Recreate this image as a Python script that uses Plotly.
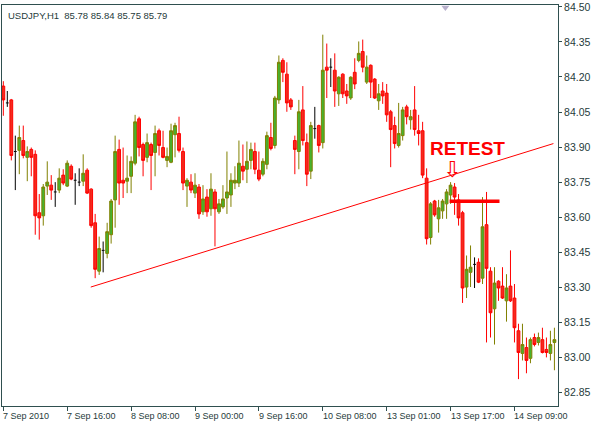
import plotly.graph_objects as go

# USDJPY H1, 7-14 Sep 2010, one value per bar, bar number on the x axis
opens = [84.161, 84.089, 84.102, 83.881, 83.886, 83.928, 83.856, 83.890, 83.869, 83.619,
         83.606, 83.733, 83.737, 83.708, 83.716, 83.780, 83.733, 83.818, 83.758, 83.750,
         83.754, 83.801, 83.720, 83.576, 83.369, 83.458, 83.445, 83.525, 83.674, 83.890,
         83.758, 83.754, 83.775, 83.831, 84.021, 83.911, 83.856, 83.911, 83.877, 83.970,
         83.898, 83.843, 83.835, 83.953, 83.958, 83.881, 83.733, 83.750, 83.703, 83.729,
         83.623, 83.686, 83.636, 83.708, 83.623, 83.644, 83.682, 83.695, 83.746, 83.746,
         83.818, 83.805, 83.843, 83.881, 83.801, 83.784, 83.826, 83.941, 83.907, 84.102,
         84.271, 84.212, 84.102, 83.928, 83.881, 84.059, 83.919, 83.797, 83.979, 83.992,
         83.919, 84.242, 84.242, 84.229, 84.128, 84.212, 84.140, 84.110, 84.220, 84.271,
         84.309, 84.178, 84.250, 84.191, 84.098, 84.140, 84.131, 84.051, 83.992, 83.907,
         83.949, 84.072, 84.017, 84.059, 83.970, 83.970, 83.767, 83.513, 83.669, 83.593,
         83.627, 83.657, 83.695, 83.729, 83.674, 83.619, 83.301, 83.364, 83.398, 83.407,
         83.339, 83.568, 83.369, 83.208, 83.326, 83.305, 83.242, 83.305, 83.254, 83.114,
         83.017, 83.042, 82.996, 83.085, 83.064, 83.076, 83.034, 83.017, 83.064]
highs = [84.182, 84.140, 84.106, 83.949, 83.992, 83.992, 83.903, 83.898, 83.886, 83.699,
         83.742, 83.839, 83.780, 83.750, 83.809, 83.805, 83.843, 83.826, 83.788, 83.809,
         83.869, 83.809, 83.724, 83.614, 83.517, 83.496, 83.576, 83.678, 83.949, 83.932,
         83.898, 83.864, 83.860, 84.038, 84.030, 83.919, 83.958, 83.919, 83.992, 83.979,
         83.970, 83.898, 84.000, 84.004, 84.030, 83.898, 83.767, 83.784, 83.788, 83.742,
         83.737, 83.720, 83.788, 83.720, 83.678, 83.737, 83.881, 83.788, 83.818, 83.928,
         83.911, 83.924, 83.919, 83.919, 83.881, 83.852, 83.966, 84.004, 84.119, 84.292,
         84.280, 84.263, 84.110, 83.949, 84.102, 84.161, 83.958, 84.008, 84.072, 83.996,
         84.381, 84.343, 84.280, 84.301, 84.203, 84.216, 84.170, 84.203, 84.280, 84.352,
         84.360, 84.292, 84.254, 84.195, 84.170, 84.178, 84.170, 84.059, 84.030, 84.089,
         84.072, 84.081, 84.059, 84.161, 84.038, 84.008, 83.809, 83.665, 83.674, 83.674,
         83.678, 83.720, 83.750, 83.746, 83.699, 83.627, 83.436, 83.479, 83.428, 83.424,
         83.686, 83.708, 83.386, 83.386, 83.330, 83.386, 83.356, 83.458, 83.314, 83.144,
         83.144, 83.085, 83.085, 83.102, 83.106, 83.127, 83.085, 83.114, 83.127]
lows = [84.034, 84.072, 83.843, 83.716, 83.784, 83.852, 83.754, 83.775, 83.525, 83.504,
        83.564, 83.695, 83.674, 83.644, 83.703, 83.737, 83.729, 83.758, 83.653, 83.733,
        83.733, 83.699, 83.555, 83.339, 83.353, 83.364, 83.424, 83.487, 83.555, 83.653,
        83.682, 83.703, 83.703, 83.822, 83.860, 83.775, 83.835, 83.716, 83.775, 83.864,
        83.852, 83.814, 83.831, 83.856, 83.877, 83.716, 83.644, 83.703, 83.682, 83.593,
        83.610, 83.602, 83.606, 83.475, 83.614, 83.636, 83.614, 83.644, 83.720, 83.729,
        83.758, 83.746, 83.805, 83.784, 83.754, 83.775, 83.805, 83.886, 83.894, 84.085,
        84.178, 84.051, 84.059, 83.784, 83.805, 83.907, 83.733, 83.763, 83.936, 83.877,
        83.894, 84.110, 84.157, 84.072, 84.076, 84.110, 84.085, 84.102, 84.148, 84.263,
        84.220, 84.170, 84.110, 84.106, 84.059, 84.085, 84.008, 83.814, 83.894, 83.898,
        83.928, 83.997, 83.975, 83.949, 83.907, 83.767, 83.483, 83.483, 83.602, 83.534,
        83.593, 83.593, 83.657, 83.610, 83.564, 83.233, 83.254, 83.301, 83.297, 83.318,
        83.314, 83.064, 83.085, 83.055, 83.242, 83.250, 83.153, 83.237, 83.064, 82.907,
        82.987, 82.932, 82.975, 83.047, 83.051, 83.017, 83.000, 82.987, 82.945]
closes = [84.102, 84.089, 83.864, 83.881, 83.941, 83.864, 83.881, 83.856, 83.606, 83.597,
          83.729, 83.750, 83.716, 83.708, 83.767, 83.746, 83.831, 83.763, 83.758, 83.750,
          83.788, 83.703, 83.564, 83.377, 83.466, 83.458, 83.538, 83.669, 83.881, 83.746,
          83.746, 83.767, 83.839, 84.008, 83.898, 83.843, 83.919, 83.864, 83.958, 83.907,
          83.856, 83.860, 83.970, 83.992, 83.886, 83.746, 83.758, 83.716, 83.737, 83.614,
          83.678, 83.623, 83.720, 83.636, 83.657, 83.678, 83.708, 83.758, 83.758, 83.831,
          83.797, 83.839, 83.890, 83.805, 83.763, 83.839, 83.949, 83.894, 84.110, 84.263,
          84.220, 84.089, 84.072, 83.890, 84.051, 83.928, 83.784, 83.992, 83.979, 83.907,
          84.229, 84.229, 84.242, 84.140, 84.199, 84.128, 84.119, 84.199, 84.170, 84.301,
          84.242, 84.242, 84.178, 84.110, 84.128, 84.119, 84.038, 83.975, 83.915, 83.958,
          84.059, 84.030, 84.030, 83.975, 83.958, 83.780, 83.508, 83.657, 83.610, 83.640,
          83.669, 83.708, 83.737, 83.686, 83.597, 83.297, 83.377, 83.386, 83.398, 83.322,
          83.559, 83.381, 83.191, 83.318, 83.297, 83.254, 83.297, 83.242, 83.127, 83.021,
          83.055, 82.987, 83.076, 83.055, 83.085, 83.021, 83.021, 83.055, 83.076]

time_labels = ['7 Sep 2010', '7 Sep 16:00', '8 Sep 08:00', '9 Sep 00:00', '9 Sep 16:00',
               '10 Sep 08:00', '13 Sep 01:00', '13 Sep 17:00', '14 Sep 09:00']
label_bars = [0, 16, 32, 48, 64, 80, 96, 112, 128]
price_ticks = [82.85, 83.00, 83.15, 83.30, 83.45, 83.60, 83.75, 83.90, 84.05, 84.20, 84.35, 84.50]

# objects drawn on the chart
trend_bars = [21.9, 137.75]
trend_prices = [83.301, 83.915]
level_bars = [111.75, 124.25]
level_prices = [83.668, 83.668]
retest_bar, retest_price = 116.3, 83.892
arrow_bar, arrow_price = 112.4, 83.803
mark_bar, mark_price = 110.7, 84.497

bars = list(range(len(opens)))
doji = [o == c for o, c in zip(opens, closes)]

def pick(vals, keep):
    return [v for v, k in zip(vals, doji) if k == keep]

axis_col = '#2f4f4f'
text_col = '#1f3b3b'

fig = go.Figure()

# candles
fig.add_trace(go.Candlestick(
    x=pick(bars, False), open=pick(opens, False), high=pick(highs, False),
    low=pick(lows, False), close=pick(closes, False),
    increasing=dict(line=dict(color='#808000', width=1), fillcolor='#46b22e'),
    decreasing=dict(line=dict(color='#ff0000', width=1), fillcolor='#f22c1e'),
    whiskerwidth=0, hoverinfo='skip', showlegend=False,
))

# doji bars are black crosses
fig.add_trace(go.Ohlc(
    x=pick(bars, True), open=pick(opens, True), high=pick(highs, True),
    low=pick(lows, True), close=pick(closes, True),
    increasing=dict(line=dict(color='black', width=1)),
    decreasing=dict(line=dict(color='black', width=1)),
    tickwidth=0.35, hoverinfo='skip', showlegend=False,
))

# trend line and retest level
fig.add_trace(go.Scatter(x=trend_bars, y=trend_prices, mode='lines',
                         line=dict(color='#ff0000', width=1), hoverinfo='skip', showlegend=False))
fig.add_trace(go.Scatter(x=level_bars, y=level_prices, mode='lines',
                         line=dict(color='#ff0000', width=3.5), hoverinfo='skip', showlegend=False))
fig.add_trace(go.Scatter(x=[mark_bar], y=[mark_price], mode='markers', cliponaxis=False,
                         marker=dict(symbol='triangle-down', size=7, color='#b8b0cc'),
                         hoverinfo='skip', showlegend=False))

annotations = [
    dict(x=0, y=1, xref='paper', yref='paper', xanchor='left', yanchor='top',
         xshift=4, yshift=-3, showarrow=False,
         text='USDJPY,H1\u00a0 85.78 85.84 85.75 85.79',
         font=dict(family='Liberation Sans', size=9.5, color=text_col)),
    dict(x=retest_bar, y=retest_price, xref='x', yref='y', showarrow=False,
         text='<b>RETEST</b>', font=dict(family='Liberation Sans', size=19, color='#ff0000')),
    dict(x=arrow_bar, y=arrow_price, xref='x', yref='y', showarrow=False,
         text='\u21e9', font=dict(family='DejaVu Sans', size=22, color='#ff0000')),
]
for b, lab in zip(label_bars, time_labels):
    annotations.append(dict(x=b, y=0, xref='x', yref='paper', xanchor='left', yanchor='top',
                            xshift=-2, yshift=-3, showarrow=False, text=lab,
                            font=dict(family='Liberation Sans', size=9, color=text_col)))

fig.update_layout(
    width=613,
    height=424,
    margin=dict(l=1, r=55, t=1, b=18),
    plot_bgcolor='white',
    paper_bgcolor='white',
    showlegend=False,
    boxgap=0.3,
    boxgroupgap=0,
    annotations=annotations,
    xaxis=dict(
        range=[-0.33, 138.9],
        rangeslider=dict(visible=False),
        showgrid=False, zeroline=False,
        showline=True, mirror=True, linecolor=axis_col, linewidth=1,
        ticks='outside', ticklen=4, tickcolor=axis_col,
        tickvals=label_bars, showticklabels=False,
    ),
    yaxis=dict(
        side='right',
        range=[82.792, 84.508],
        showgrid=False, zeroline=False,
        showline=True, mirror=True, linecolor=axis_col, linewidth=1,
        ticks='outside', ticklen=3, tickcolor=axis_col,
        tickvals=price_ticks, ticktext=[f'{p:.2f}' for p in price_ticks],
        ticklabeloverflow='allow',
        tickfont=dict(family='Liberation Sans', size=10.5, color=text_col),
    ),
)

# the page's default body margin would push the chart off the window
fig.write_html('out.html', config={'displayModeBar': False},
               post_script="document.body.style.margin='0';")
